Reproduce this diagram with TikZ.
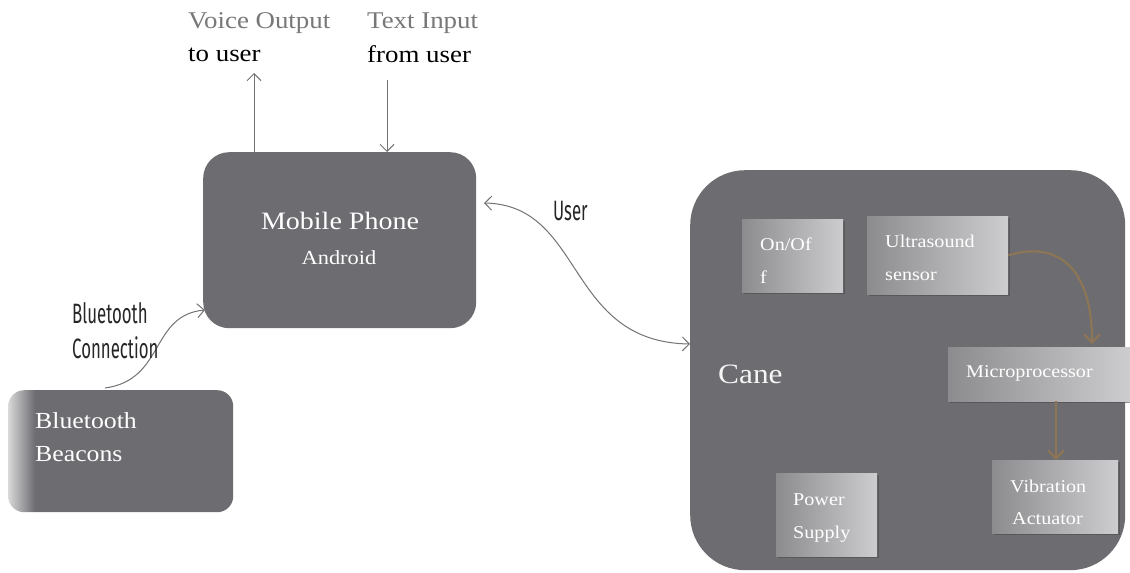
\documentclass[tikz,border=0pt]{standalone}
\usepackage{fontspec}
\setmainfont[FakeStretch=1.12]{Liberation Serif}
\newfontfamily\condfont[FakeStretch=0.6]{Fira Sans}
\usetikzlibrary{arrows.meta,shadows}
\definecolor{boxgrey}{RGB}{108,108,113}
\definecolor{lightgreytext}{RGB}{120,120,120}
\definecolor{brownarrow}{RGB}{140,118,85}
\definecolor{gradleft}{RGB}{140,140,142}
\definecolor{gradright}{RGB}{205,205,207}
\pgfdeclarehorizontalshading{beaconshade}{100bp}{color(0bp)=(gray!30); color(25bp)=(gray!30); color(31bp)=(boxgrey); color(100bp)=(boxgrey)}
\tikzset{
  bigbox/.style={fill=boxgrey,draw=none},
  innerbox/.style={draw=none,left color=gradleft,right color=gradright,
     drop shadow={shadow xshift=1.5pt,shadow yshift=-1.5pt,opacity=0.6,fill=black!70}},
  boxtext/.style={text=white,font=\fontsize{18}{20}\selectfont,anchor=base west,inner sep=0pt},
  greyarrow/.style={draw=gray!90!black,line width=1pt,-{Straight Barb[length=7pt,width=14pt]}},
  greyarrowboth/.style={draw=gray!90!black,line width=1pt,{Straight Barb[length=7pt,width=14pt]}-{Straight Barb[length=7pt,width=14pt]}},
  brownarr/.style={draw=brownarrow,line width=2.2pt,-{Straight Barb[length=8pt,width=16pt]}},
  condlabel/.style={font=\condfont\fontsize{28}{30}\selectfont,anchor=base west,inner sep=0pt,text=black!85},
  toplabel/.style={font=\fontsize{24}{26}\selectfont,anchor=base west,inner sep=0pt},
}
\begin{document}
\begin{tikzpicture}[x=1pt,y=-1pt]
\useasboundingbox (0,0) rectangle (1130,573);
\fill[white] (0,0) rectangle (1130,573);

% Mobile phone
\node[bigbox,rounded corners=26pt,minimum width=273pt,minimum height=176pt,anchor=north west] (phone) at (203,152) {};
\node[text=white,font=\fontsize{25}{27}\selectfont,anchor=base,inner sep=0pt] (phonet) at (340,229) {Mobile Phone};
\node[text=white,font=\fontsize{20}{22}\selectfont,anchor=base,inner sep=0pt] (android) at (339,264) {Android};

% Top labels
\node[toplabel,text=lightgreytext] (vo) at (188,28) {Voice Output};
\node[toplabel,text=black] (tu) at (188,61) {to user};
\node[toplabel,text=lightgreytext] (ti) at (367,28) {Text Input};
\node[toplabel,text=black] (fu) at (367,62) {from user};

\coordinate (voTop) at (254,73);
\coordinate (tiTop) at (387,80);
\draw[greyarrow] (phone.north west -| voTop) -- (voTop);
\draw[greyarrow] (tiTop) -- (phone.north west -| tiTop);

% Bluetooth beacons
\node[rounded corners=16pt,shading=beaconshade,draw=none,minimum width=225pt,minimum height=122pt,anchor=north west] (beacons) at (8,390) {};
\node[boxtext,font=\fontsize{23}{25}\selectfont] (bt1) at (35,428) {Bluetooth};
\node[boxtext,font=\fontsize{23}{25}\selectfont] (bt2) at (35,461) {Beacons};

\coordinate (bcStart) at (105,388);
\draw[greyarrow] (bcStart) .. controls (165,380) and (150,315) .. (205,310);
\node[condlabel] (bcl1) at (72,323) {Bluetooth};
\node[condlabel] (bcl2) at (72,358) {Connection};

% Cane
\node[bigbox,rounded corners=55pt,minimum width=435pt,minimum height=400pt,anchor=north west] (cane) at (690,170) {};
\node[text=white!92!gray,font=\fontsize{28}{30}\selectfont,anchor=base west,inner sep=0pt] (canet) at (718,383) {Cane};

% User connector
\coordinate (uStart) at (484,203);
\coordinate (uEnd) at (690,344);
\draw[greyarrowboth] (uStart) .. controls (585,205) and (565,342) .. (uEnd);
\node[condlabel] (userl) at (553,220) {User};

% Inner boxes
\node[innerbox,minimum width=101pt,minimum height=73pt,anchor=north west] (onoff) at (742,219) {};
\node[boxtext] at (760,250) {On/Of};
\node[boxtext] at (760,283) {f};

\node[innerbox,minimum width=141pt,minimum height=78pt,anchor=north west] (ultra) at (867,216) {};
\node[boxtext] at (885,247) {Ultrasound};
\node[boxtext] at (885,280) {sensor};

\node[innerbox,minimum width=182pt,minimum height=54pt,anchor=north west] (micro) at (948,347) {};
\node[boxtext] at (966,377) {Microprocessor};

\node[innerbox,minimum width=126pt,minimum height=73pt,anchor=north west] (vib) at (992,460) {};
\node[boxtext] at (1010,492) {Vibration};
\node[boxtext] at (1012,524) {Actuator};

\node[innerbox,minimum width=101pt,minimum height=83pt,anchor=north west] (power) at (776,473) {};
\node[boxtext] at (793,505) {Power};
\node[boxtext] at (793,538) {Supply};

% Brown arrows
\draw[brownarr] (ultra.east) .. controls (1060,240) and (1092,270) .. (1092,344);
\draw[brownarr] (micro.south -| 1056,0) -- (vib.north -| 1056,0);
\end{tikzpicture}
\end{document}
